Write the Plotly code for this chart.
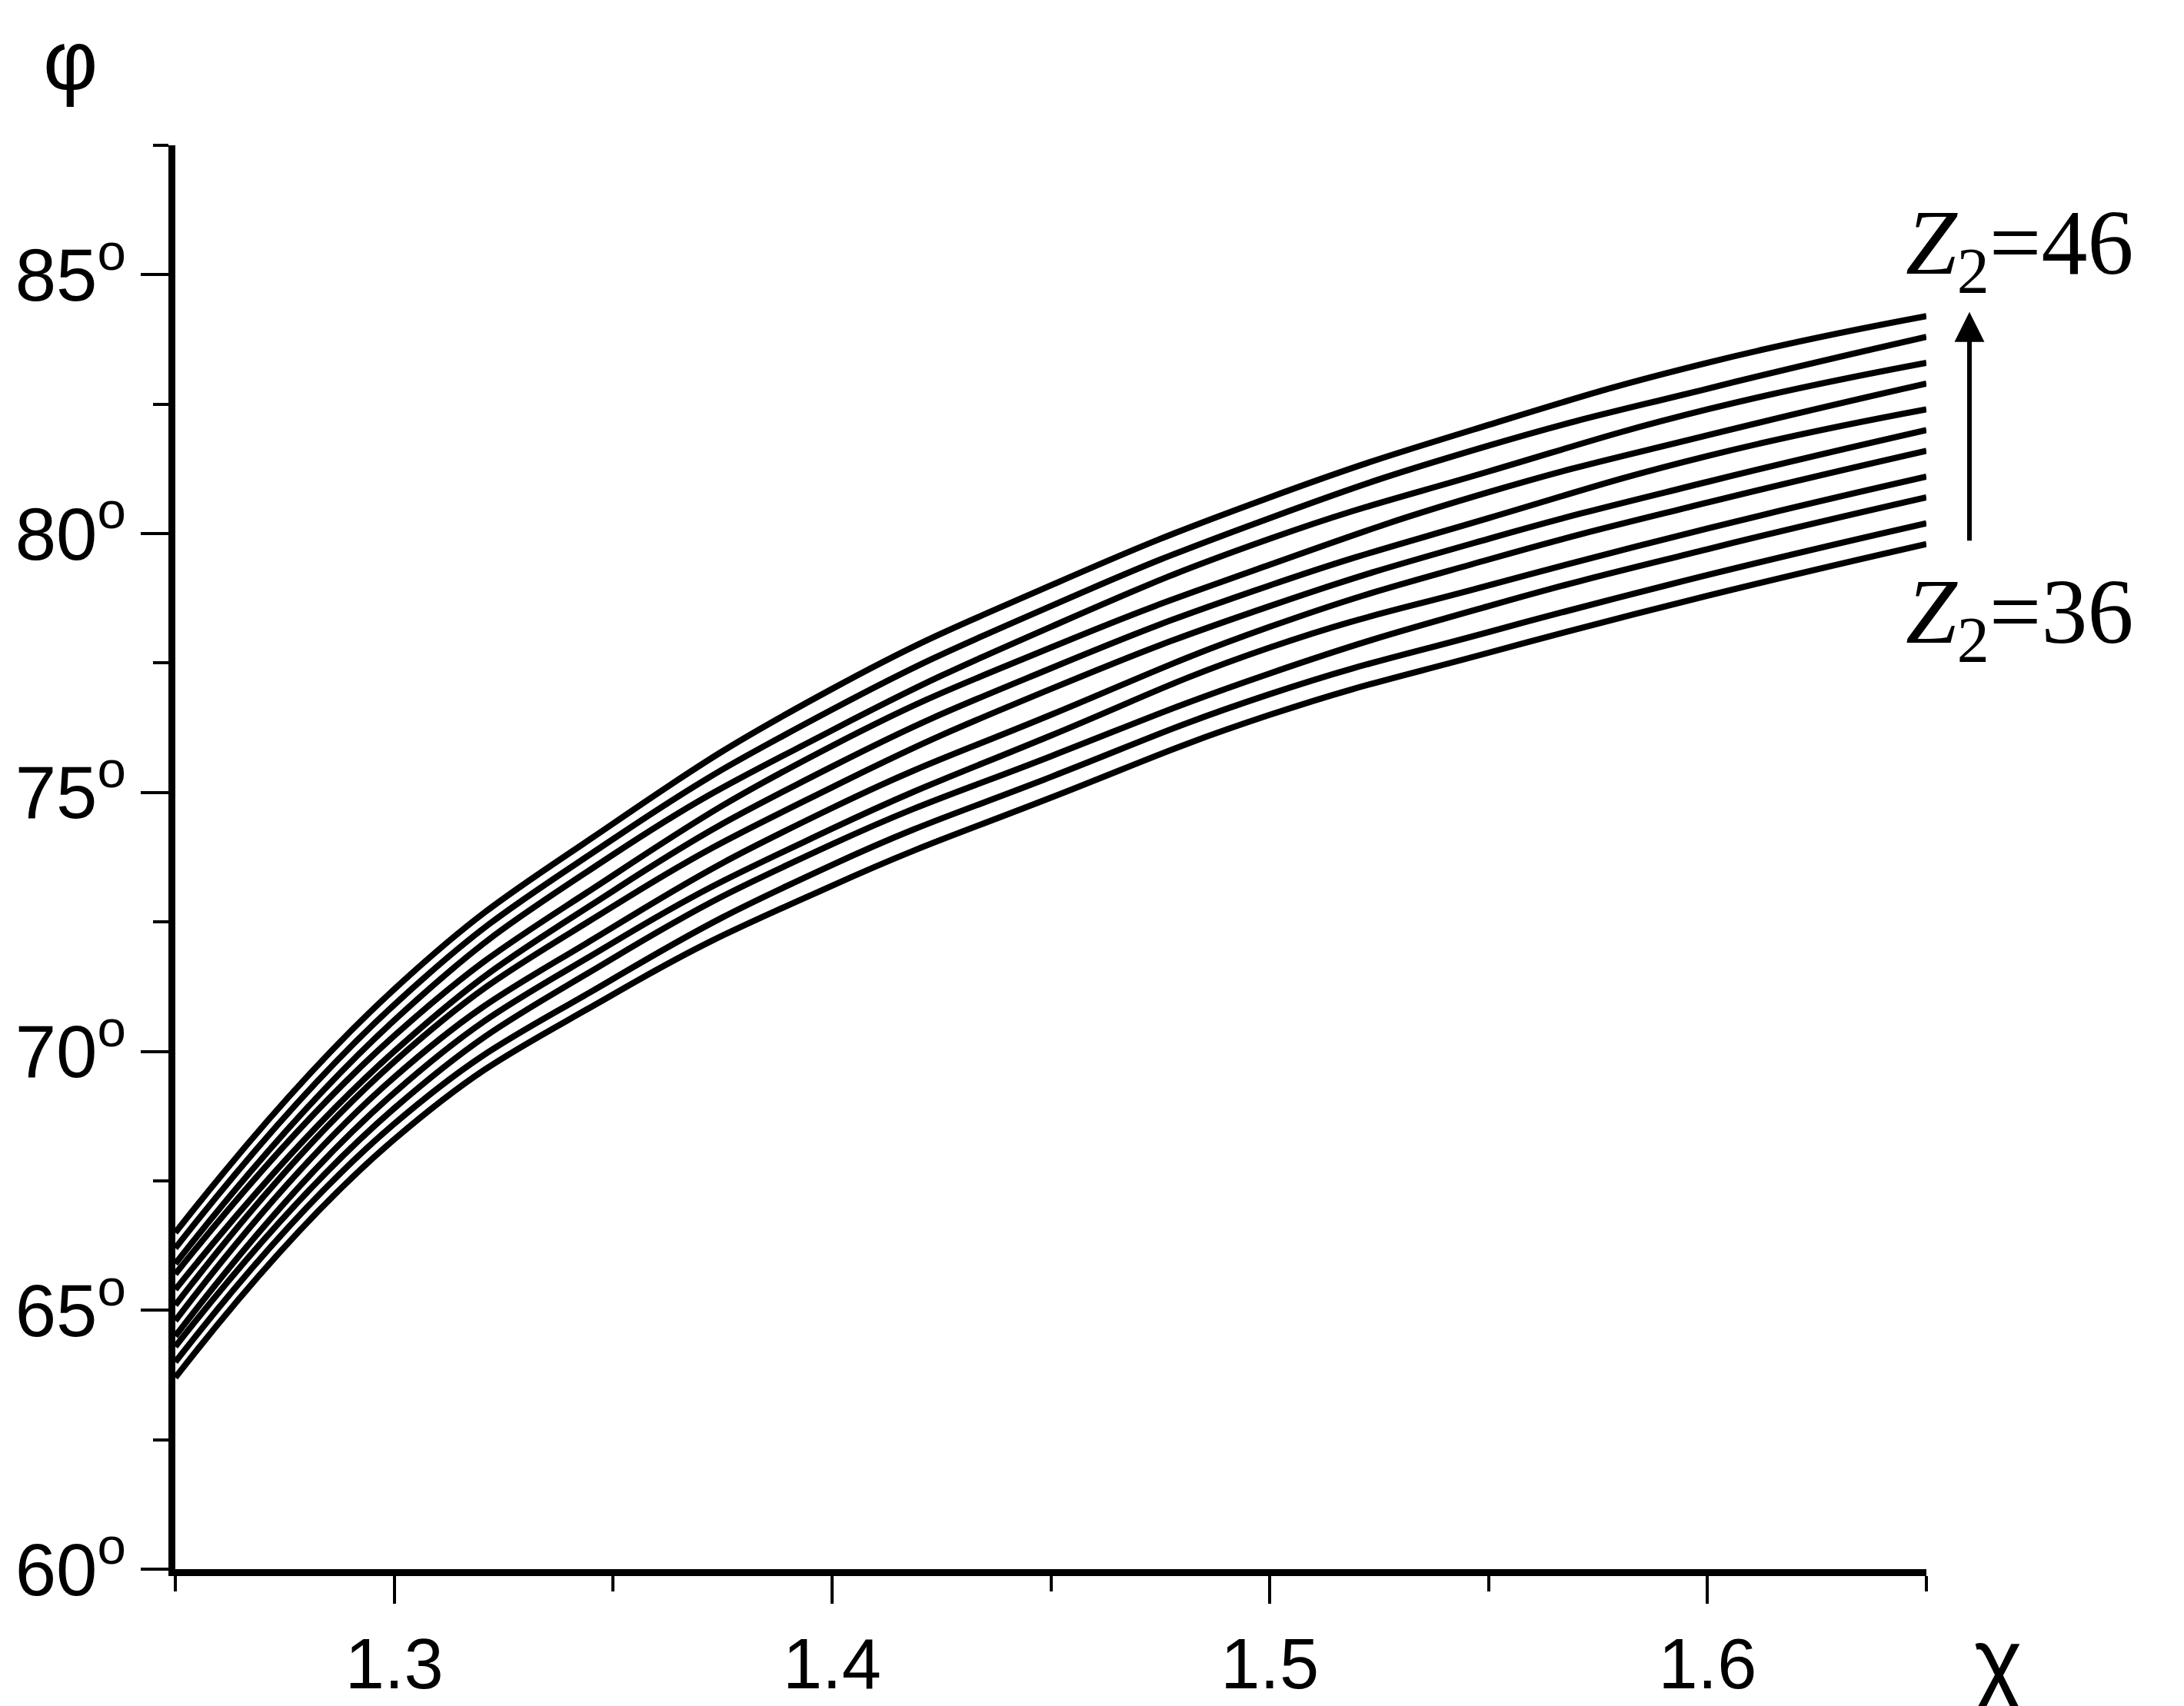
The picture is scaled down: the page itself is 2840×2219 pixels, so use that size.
import plotly.graph_objects as go

chi = [1.25, 1.30, 1.35, 1.40, 1.45, 1.50, 1.55, 1.60, 1.65]
z2_values = [36, 37, 38, 39, 40, 41, 42, 43, 44, 45, 46]
phi_z36 = [63.7, 68.3, 71.1, 73.2, 74.9, 76.5, 77.7, 78.8, 79.8]
phi_z37 = [64.0, 68.6, 71.4, 73.6, 75.3, 76.9, 78.1, 79.2, 80.2]
phi_z38 = [64.3, 68.9, 71.8, 74.0, 75.7, 77.3, 78.6, 79.7, 80.7]
phi_z39 = [64.5, 69.2, 72.1, 74.3, 76.1, 77.8, 79.0, 80.1, 81.1]
phi_z40 = [64.8, 69.5, 72.4, 74.7, 76.5, 78.2, 79.5, 80.6, 81.6]
phi_z41 = [65.1, 69.8, 72.8, 75.1, 77.0, 78.6, 79.9, 81.0, 82.0]
phi_z42 = [65.4, 70.0, 73.1, 75.5, 77.4, 79.0, 80.3, 81.5, 82.4]
phi_z43 = [65.7, 70.3, 73.4, 75.9, 77.8, 79.4, 80.8, 81.9, 82.9]
phi_z44 = [65.9, 70.6, 73.8, 76.2, 78.2, 79.9, 81.2, 82.4, 83.3]
phi_z45 = [66.2, 70.9, 74.1, 76.6, 78.6, 80.3, 81.7, 82.8, 83.8]
phi_z46 = [66.5, 71.2, 74.4, 77.0, 79.0, 80.7, 82.1, 83.3, 84.2]
series = [phi_z36, phi_z37, phi_z38, phi_z39, phi_z40, phi_z41,
          phi_z42, phi_z43, phi_z44, phi_z45, phi_z46]

x_ticks = [1.3, 1.4, 1.5, 1.6]
x_ticklabels = ["1.3", "1.4", "1.5", "1.6"]
y_ticks = [60, 65, 70, 75, 80, 85]
y_ticklabels = [f"{v}<sup>o</sup>" for v in y_ticks]

fig = go.Figure()
for z, ys in zip(z2_values, series):
    fig.add_trace(go.Scatter(x=chi, y=ys, mode="lines", name=f"Z2={z}",
                             line=dict(color="black", width=8, shape="spline",
                                       smoothing=1.3),
                             showlegend=False))

yfont = dict(family="Liberation Sans, Arial", size=96, color="black")
xfont = dict(family="Liberation Sans Narrow, Liberation Sans", size=92, color="black")
fig.update_layout(
    width=2840, height=2219,
    margin=dict(l=217, r=343, t=181, b=183),
    paper_bgcolor="white", plot_bgcolor="white",
    font=yfont,
    xaxis=dict(range=[1.25, 1.65], tickvals=x_ticks, ticktext=x_ticklabels,
               showgrid=False, zeroline=False, showline=True, linecolor="black",
               linewidth=9, ticks="outside", ticklen=36, tickwidth=4,
               tickcolor="black", tickfont=xfont,
               minor=dict(dtick=0.05, tick0=1.25, ticks="outside", ticklen=20,
                          tickwidth=4, tickcolor="black", showgrid=False)),
    yaxis=dict(range=[60, 87.5], tickvals=y_ticks, ticktext=y_ticklabels,
               showgrid=False, zeroline=False, showline=True, linecolor="black",
               linewidth=9, ticks="outside", ticklen=36, tickwidth=4,
               tickcolor="black", tickfont=yfont,
               minor=dict(dtick=2.5, tick0=60, ticks="outside", ticklen=20,
                          tickwidth=4, tickcolor="black", showgrid=False)),
)

serif = dict(family="Liberation Serif, Times New Roman", size=120, color="black")
fig.add_annotation(xref="paper", yref="paper", x=-0.06, y=1.06, text="φ",
                   xanchor="center", yanchor="middle", showarrow=False,
                   font=dict(family="Liberation Sans", size=110))
fig.add_annotation(xref="paper", yref="paper", x=1.041, y=-0.064, text="χ",
                   xanchor="center", yanchor="middle", showarrow=False,
                   font=dict(family="Liberation Sans", size=120))
fig.add_annotation(xref="paper", yref="paper", x=1.053, y=0.927,
                   xanchor="center", yanchor="middle",
                   text="<i>Z</i><sub>2</sub>=46", showarrow=False, font=serif)
fig.add_annotation(xref="paper", yref="paper", x=1.053, y=0.668,
                   xanchor="center", yanchor="middle",
                   text="<i>Z</i><sub>2</sub>=36", showarrow=False, font=serif)
fig.add_annotation(xref="paper", yref="paper", x=1.0246, y=0.883, text="",
                   showarrow=True, ax=0, ay=299, arrowhead=2, arrowsize=1.3,
                   arrowwidth=6, arrowcolor="black")

fig.write_html("out.html")
